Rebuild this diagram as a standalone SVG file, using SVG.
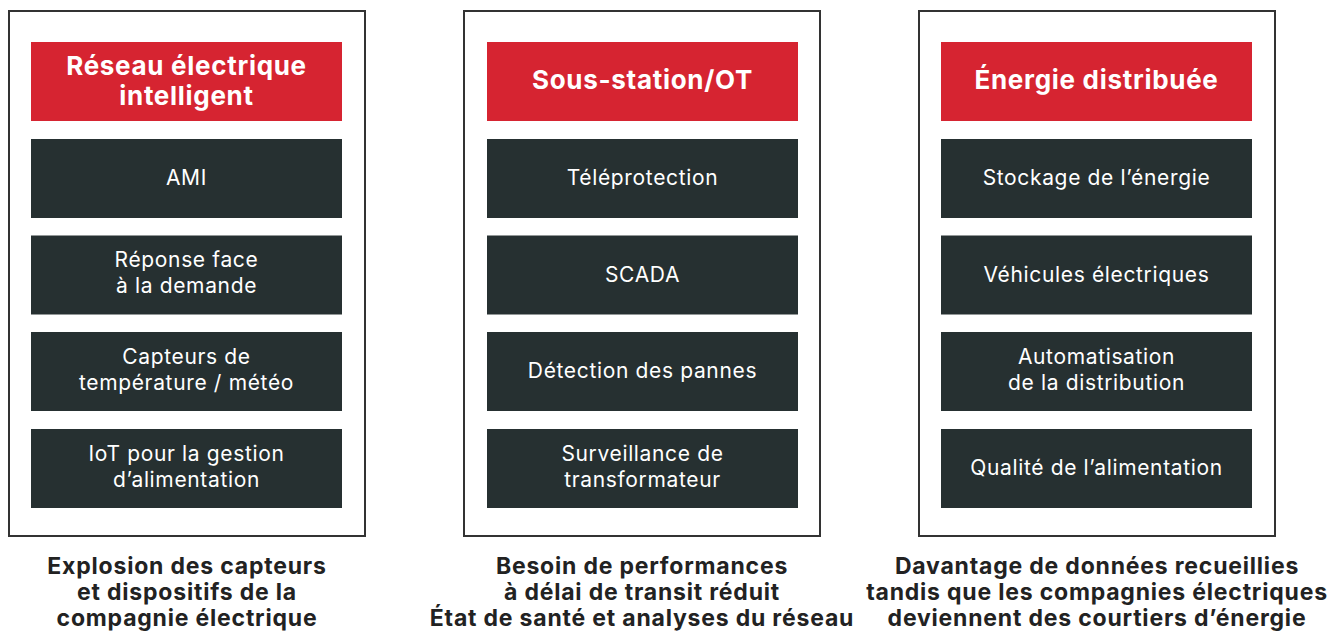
<svg xmlns="http://www.w3.org/2000/svg" width="1328" height="632" viewBox="0 0 1328 632">
<style>
.panel{fill:#fff;stroke:#333;stroke-width:2}
.head{fill:#D62431}
.item{fill:#263031}
.ht{font-family:Inter,"Liberation Sans",sans-serif;font-weight:700;font-size:26px;letter-spacing:0.7px;fill:#fff;text-anchor:middle}
.it{font-family:Inter,"Liberation Sans",sans-serif;font-weight:400;font-size:21px;letter-spacing:0.65px;fill:#fff;text-anchor:middle}
.cap{font-family:Inter,"Liberation Sans",sans-serif;font-weight:700;font-size:23px;letter-spacing:0.8px;fill:#222;text-anchor:middle}
</style>
<rect width="1328" height="632" fill="#fff"/>
<g id="panel1">
<rect class="panel" x="9" y="11" width="356" height="525"/>
<rect class="head" x="31" y="42" width="311" height="79"/>
<text class="ht" x="186.5" y="75">Réseau électrique</text>
<text class="ht" x="186.5" y="105">intelligent</text>
<rect class="item" x="31" y="139" width="311" height="79"/>
<text class="it" x="186.5" y="185">AMI</text>
<rect class="item" x="31" y="235.5" width="311" height="79"/>
<text class="it" x="186.5" y="267">Réponse face</text>
<text class="it" x="186.5" y="293">à la demande</text>
<rect class="item" x="31" y="332" width="311" height="79"/>
<text class="it" x="186.5" y="364">Capteurs de</text>
<text class="it" x="186.5" y="390">température / météo</text>
<rect class="item" x="31" y="429" width="311" height="79"/>
<text class="it" x="186.5" y="461">IoT pour la gestion</text>
<text class="it" x="186.5" y="487">d’alimentation</text>
<text class="cap" x="187" y="574">Explosion des capteurs</text>
<text class="cap" x="187" y="600">et dispositifs de la</text>
<text class="cap" x="187" y="626">compagnie électrique</text>
</g>
<g id="panel2">
<rect class="panel" x="464" y="11" width="356" height="525"/>
<rect class="head" x="487" y="42" width="311" height="79"/>
<text class="ht" x="642.5" y="89">Sous-station/OT</text>
<rect class="item" x="487" y="139" width="311" height="79"/>
<text class="it" x="642.5" y="185">Téléprotection</text>
<rect class="item" x="487" y="235.5" width="311" height="79"/>
<text class="it" x="642.5" y="281.5">SCADA</text>
<rect class="item" x="487" y="332" width="311" height="79"/>
<text class="it" x="642.5" y="378">Détection des pannes</text>
<rect class="item" x="487" y="429" width="311" height="79"/>
<text class="it" x="642.5" y="461">Surveillance de</text>
<text class="it" x="642.5" y="487">transformateur</text>
<text class="cap" x="642" y="574">Besoin de performances</text>
<text class="cap" x="642" y="600">à délai de transit réduit</text>
<text class="cap" x="642" y="626">État de santé et analyses du réseau</text>
</g>
<g id="panel3">
<rect class="panel" x="919" y="11" width="356" height="525"/>
<rect class="head" x="941" y="42" width="311" height="79"/>
<text class="ht" x="1096.5" y="89">Énergie distribuée</text>
<rect class="item" x="941" y="139" width="311" height="79"/>
<text class="it" x="1096.5" y="185">Stockage de l’énergie</text>
<rect class="item" x="941" y="235.5" width="311" height="79"/>
<text class="it" x="1096.5" y="281.5">Véhicules électriques</text>
<rect class="item" x="941" y="332" width="311" height="79"/>
<text class="it" x="1096.5" y="364">Automatisation</text>
<text class="it" x="1096.5" y="390">de la distribution</text>
<rect class="item" x="941" y="429" width="311" height="79"/>
<text class="it" x="1096.5" y="475">Qualité de l’alimentation</text>
<text class="cap" x="1097" y="574">Davantage de données recueillies</text>
<text class="cap" x="1097" y="600">tandis que les compagnies électriques</text>
<text class="cap" x="1097" y="626">deviennent des courtiers d’énergie</text>
</g>
</svg>
